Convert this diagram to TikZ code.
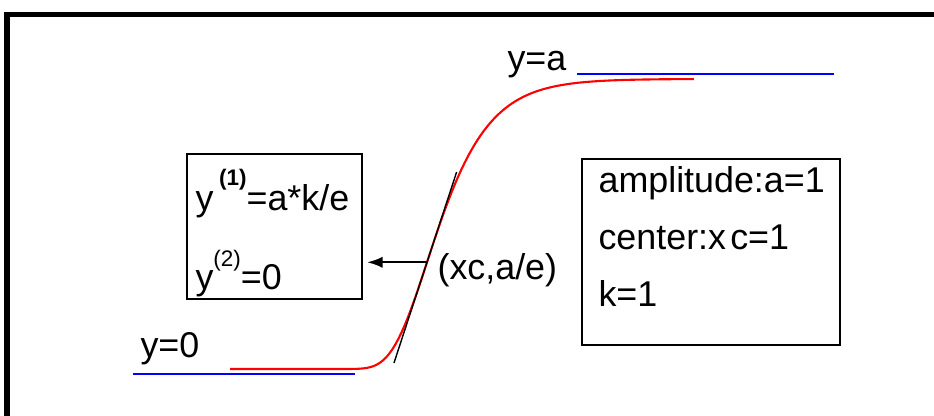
\documentclass[tikz,border=0pt]{standalone}
\usepackage{fontspec}
\setmainfont{Liberation Sans}
\usetikzlibrary{arrows.meta,calc}

\tikzset{
  box/.style={draw, line width=1.3pt, inner sep=0pt},
  lbl/.style={inner sep=0pt, anchor=base west, font=\fontsize{25.5}{30}\selectfont},
}

\begin{document}
\begin{tikzpicture}[>=Stealth, thick]
    \useasboundingbox (0,0) rectangle (23.35,10.4);
    \def\amp{7.25}  % amplitude a
    \def\sk{0.875}  % 1/k
    \def\ylo{1.175} % level y=0
    \def\xc{10.675} % center xc
    \coordinate (C) at (\xc, {\ylo+\amp/exp(1)});

    % Frame
    \draw[line width=4pt] (0.175,0) -- (0.175,10.04) -- (23.4,10.04);

    % Asymptotes
    \draw[blue, line width=1.9pt] (3.325,1.05) -- (8.875,1.05);
    \draw[blue, line width=1.9pt] (14.425,8.55) -- (20.85,8.55);
    \node[lbl] (y0) at (3.5,1.45) {y=0};
    \node[lbl] (ya) at (12.675,8.625) {y=a};

    % Curve
    \draw[red, line width=1.5pt] (5.75,\ylo) -- (8,\ylo)
        -- plot[domain=8:17.35, samples=120] (\x, {\ylo+\amp*exp(-exp(-(\x-\xc)/\sk))});

    % Tangent at the inflection point
    \draw[line width=1pt] ($(C)+(-0.826,-2.517)$) -- ($(C)+(0.741,2.258)$);
    \node[lbl] (cl) at (10.925,3.4) {(xc,a/e)};

    % Derivatives
    \node[box, minimum width=4.375cm, minimum height=3.625cm] (deriv) at (6.8625,4.7375) {};
    \node[lbl] (d1) at (4.875,5.125) {y\kern4pt\raisebox{18pt}{\fontsize{16}{17}\selectfont\bfseries(1)}=a*k/e};
    \node[lbl] (d2) at (4.875,3.15) {y\raisebox{17pt}{\fontsize{16}{17}\selectfont(2)}=0};
    \draw[line width=1.5pt, -{Latex[length=11pt,width=8pt]}, shorten >=3pt] (C) -- (C -| deriv.east);

    % Parameters
    \node[box, minimum width=6.45cm, minimum height=4.65cm] (param) at (17.775,4.1) {};
    \node[lbl] (p1) at (14.95,5.575) {amplitude:a=1};
    \node[lbl] (p2) at (14.95,4.15) {center:x\kern3pt c=1};
    \node[lbl] (p3) at (14.95,2.725) {k=1};
\end{tikzpicture}
\end{document}
